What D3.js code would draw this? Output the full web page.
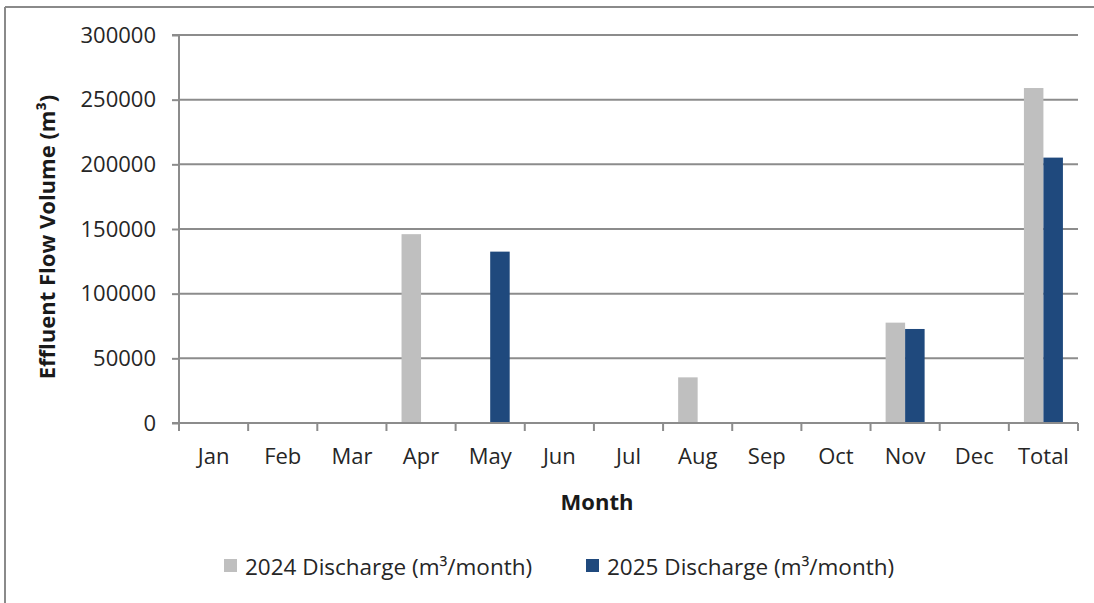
<!DOCTYPE html>
<html><head><meta charset="utf-8">
<script src="https://cdn.jsdelivr.net/npm/d3@7"></script>
<style>
html,body{margin:0;padding:0;background:#fff;}
svg{display:block;font-family:"Open Sans",sans-serif;}
</style></head>
<body>
<svg id="c" width="1094" height="603"></svg>
<script>
const categories = ["Jan","Feb","Mar","Apr","May","Jun","Jul","Aug","Sep","Oct","Nov","Dec","Total"];
const series2024 = [0,0,0,146000,0,0,0,35300,0,0,77600,0,259000];
const series2025 = [0,0,0,0,132500,0,0,0,0,0,72700,0,205200];
const seriesNames = ["2024 Discharge (m³/month)","2025 Discharge (m³/month)"];
const seriesColors = ["#bfbfbf","#1f497d"];
const yTicks = [0,50000,100000,150000,200000,250000,300000];

const svg = d3.select("#c");
const W = 1094, H = 603;
const m = {left:179, right:1078, top:35, bottom:423};

svg.append("line").attr("x1",5).attr("x2",W).attr("y1",7).attr("y2",7).attr("stroke","#8a8a8a").attr("stroke-width",2);
svg.append("line").attr("x1",5).attr("x2",5).attr("y1",7).attr("y2",H).attr("stroke","#8a8a8a").attr("stroke-width",2);

const x = d3.scaleBand().domain(categories).range([m.left,m.right]).paddingInner(0).paddingOuter(0);
const y = d3.scaleLinear().domain([0,300000]).range([m.bottom,m.top]);

const gridColor = "#8c8c8c";
svg.append("g").selectAll("line").data(yTicks.filter(d=>d>0)).join("line")
  .attr("x1",m.left).attr("x2",m.right)
  .attr("y1",d=>y(d)).attr("y2",d=>y(d))
  .attr("stroke",gridColor).attr("stroke-width",2);

const bw = 19.5;
const groups = [series2024, series2025];
groups.forEach((s,i)=>{
  svg.append("g").selectAll("rect").data(categories.map((c,j)=>({c,v:s[j]})).filter(d=>d.v>0)).join("rect")
    .attr("x",d=>x(d.c)+x.bandwidth()/2 - bw + i*bw)
    .attr("width",bw)
    .attr("y",d=>y(d.v))
    .attr("height",d=>y(0)-y(d.v))
    .attr("fill",seriesColors[i]);
});

const yAxis = d3.axisLeft(y).tickValues(yTicks).tickSize(7).tickPadding(16).tickFormat(d3.format("d"));
const gy = svg.append("g").attr("transform",`translate(${m.left},0)`).call(yAxis);
gy.select(".domain").attr("stroke",gridColor).attr("stroke-width",2).attr("d",`M-7,${m.top}H0V${m.bottom}H-7`);
gy.selectAll(".tick line").attr("stroke",gridColor).attr("stroke-width",2);
gy.selectAll(".tick text").attr("font-size",22).attr("fill","#262626").attr("font-family","Open Sans");

const xAxis = d3.axisBottom(x).tickSize(0).tickPadding(25);
const gx = svg.append("g").attr("transform",`translate(0,${m.bottom})`).call(xAxis);
gx.select(".domain").attr("stroke",gridColor).attr("stroke-width",2).attr("d",`M${m.left},0H${m.right}`);
gx.selectAll(".tick text").attr("font-size",22).attr("fill","#262626").attr("font-family","Open Sans");
const bounds = categories.map(c=>x(c)).concat([m.right]);
svg.append("g").selectAll("line").data(bounds).join("line")
  .attr("x1",d=>d).attr("x2",d=>d).attr("y1",m.bottom).attr("y2",m.bottom+8)
  .attr("stroke",gridColor).attr("stroke-width",2);

svg.append("text").attr("x",597).attr("y",510).attr("text-anchor","middle")
  .attr("font-size",22).attr("font-weight","bold").attr("fill","#1a1a1a").text("Month");
svg.append("text").attr("transform","translate(55,237) rotate(-90)").attr("text-anchor","middle")
  .attr("font-size",22).attr("font-weight","bold").attr("fill","#1a1a1a").text("Effluent Flow Volume (m³)");

const legX = [224, 586];
seriesNames.forEach((n,i)=>{
  svg.append("rect").attr("x",legX[i]).attr("y",559).attr("width",13).attr("height",13).attr("fill",seriesColors[i]);
  svg.append("text").attr("x",legX[i]+21).attr("y",575).attr("font-size",22.5).attr("fill","#262626").text(n);
});
</script>
</body></html>
